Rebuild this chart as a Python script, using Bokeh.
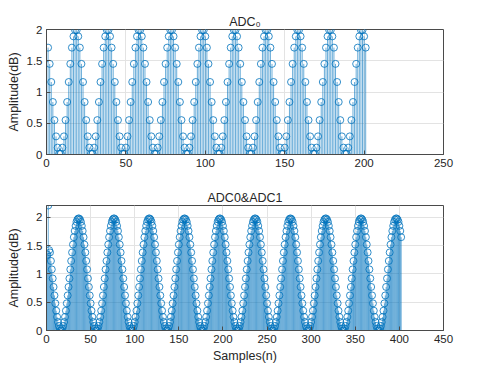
from bokeh.plotting import figure
from bokeh.layouts import column
from bokeh.models import ColumnDataSource, FixedTicker, NumeralTickFormatter, Range1d
from bokeh.embed import file_html
from bokeh.resources import INLINE

# ---------------- data ----------------
top_title = "ADC\u2080"
bottom_title = "ADC0&ADC1"
x_label = "Samples(n)"
y_label = "Amplitude(dB)"

top_x_ticks = [0, 50, 100, 150, 200, 250]
bottom_x_ticks = [0, 50, 100, 150, 200, 250, 300, 350, 400, 450]
y_ticks = [0, 0.5, 1, 1.5, 2]

top_amp = [
    1.71, 1.45, 1.16, 0.84, 0.55, 0.29, 0.11, 0.01, 0.01, 0.11, 0.29, 0.55, 0.84, 1.16, 1.45, 1.71, 1.89, 1.99, 1.99, 1.89,
    1.71, 1.45, 1.16, 0.84, 0.55, 0.29, 0.11, 0.01, 0.01, 0.11, 0.29, 0.55, 0.84, 1.16, 1.45, 1.71, 1.89, 1.99, 1.99, 1.89,
    1.71, 1.45, 1.16, 0.84, 0.55, 0.29, 0.11, 0.01, 0.01, 0.11, 0.29, 0.55, 0.84, 1.16, 1.45, 1.71, 1.89, 1.99, 1.99, 1.89,
    1.71, 1.45, 1.16, 0.84, 0.55, 0.29, 0.11, 0.01, 0.01, 0.11, 0.29, 0.55, 0.84, 1.16, 1.45, 1.71, 1.89, 1.99, 1.99, 1.89,
    1.71, 1.45, 1.16, 0.84, 0.55, 0.29, 0.11, 0.01, 0.01, 0.11, 0.29, 0.55, 0.84, 1.16, 1.45, 1.71, 1.89, 1.99, 1.99, 1.89,
    1.71, 1.45, 1.16, 0.84, 0.55, 0.29, 0.11, 0.01, 0.01, 0.11, 0.29, 0.55, 0.84, 1.16, 1.45, 1.71, 1.89, 1.99, 1.99, 1.89,
    1.71, 1.45, 1.16, 0.84, 0.55, 0.29, 0.11, 0.01, 0.01, 0.11, 0.29, 0.55, 0.84, 1.16, 1.45, 1.71, 1.89, 1.99, 1.99, 1.89,
    1.71, 1.45, 1.16, 0.84, 0.55, 0.29, 0.11, 0.01, 0.01, 0.11, 0.29, 0.55, 0.84, 1.16, 1.45, 1.71, 1.89, 1.99, 1.99, 1.89,
    1.71, 1.45, 1.16, 0.84, 0.55, 0.29, 0.11, 0.01, 0.01, 0.11, 0.29, 0.55, 0.84, 1.16, 1.45, 1.71, 1.89, 1.99, 1.99, 1.89,
    1.71, 1.45, 1.16, 0.84, 0.55, 0.29, 0.11, 0.01, 0.01, 0.11, 0.29, 0.55, 0.84, 1.16, 1.45, 1.71, 1.89, 1.99, 1.99, 1.89,
    1.71,
]

bottom_amp = [
    1.34, 2.21, 1.42, 1.38, 1.23, 1.08, 0.92, 0.77, 0.62, 0.48, 0.35, 0.24, 0.15, 0.08, 0.03, 0.00, 0.00, 0.03, 0.08, 0.15,
    0.24, 0.35, 0.48, 0.62, 0.77, 0.92, 1.08, 1.23, 1.38, 1.52, 1.65, 1.76, 1.85, 1.92, 1.96, 1.98, 1.98, 1.96, 1.92, 1.85,
    1.76, 1.65, 1.52, 1.38, 1.23, 1.08, 0.92, 0.77, 0.62, 0.48, 0.35, 0.24, 0.15, 0.08, 0.03, 0.00, 0.00, 0.03, 0.08, 0.15,
    0.24, 0.35, 0.48, 0.62, 0.77, 0.92, 1.08, 1.23, 1.38, 1.52, 1.65, 1.76, 1.85, 1.92, 1.96, 1.98, 1.98, 1.96, 1.92, 1.85,
    1.76, 1.65, 1.52, 1.38, 1.23, 1.08, 0.92, 0.77, 0.62, 0.48, 0.35, 0.24, 0.15, 0.08, 0.03, 0.00, 0.00, 0.03, 0.08, 0.15,
    0.24, 0.35, 0.48, 0.62, 0.77, 0.92, 1.08, 1.23, 1.38, 1.52, 1.65, 1.76, 1.85, 1.92, 1.96, 1.98, 1.98, 1.96, 1.92, 1.85,
    1.76, 1.65, 1.52, 1.38, 1.23, 1.08, 0.92, 0.77, 0.62, 0.48, 0.35, 0.24, 0.15, 0.08, 0.03, 0.00, 0.00, 0.03, 0.08, 0.15,
    0.24, 0.35, 0.48, 0.62, 0.77, 0.92, 1.08, 1.23, 1.38, 1.52, 1.65, 1.76, 1.85, 1.92, 1.96, 1.98, 1.98, 1.96, 1.92, 1.85,
    1.76, 1.65, 1.52, 1.38, 1.23, 1.08, 0.92, 0.77, 0.62, 0.48, 0.35, 0.24, 0.15, 0.08, 0.03, 0.00, 0.00, 0.03, 0.08, 0.15,
    0.24, 0.35, 0.48, 0.62, 0.77, 0.92, 1.08, 1.23, 1.38, 1.52, 1.65, 1.76, 1.85, 1.92, 1.96, 1.98, 1.98, 1.96, 1.92, 1.85,
    1.76, 1.65, 1.52, 1.38, 1.23, 1.08, 0.92, 0.77, 0.62, 0.48, 0.35, 0.24, 0.15, 0.08, 0.03, 0.00, 0.00, 0.03, 0.08, 0.15,
    0.24, 0.35, 0.48, 0.62, 0.77, 0.92, 1.08, 1.23, 1.38, 1.52, 1.65, 1.76, 1.85, 1.92, 1.96, 1.98, 1.98, 1.96, 1.92, 1.85,
    1.76, 1.65, 1.52, 1.38, 1.23, 1.08, 0.92, 0.77, 0.62, 0.48, 0.35, 0.24, 0.15, 0.08, 0.03, 0.00, 0.00, 0.03, 0.08, 0.15,
    0.24, 0.35, 0.48, 0.62, 0.77, 0.92, 1.08, 1.23, 1.38, 1.52, 1.65, 1.76, 1.85, 1.92, 1.96, 1.98, 1.98, 1.96, 1.92, 1.85,
    1.76, 1.65, 1.52, 1.38, 1.23, 1.08, 0.92, 0.77, 0.62, 0.48, 0.35, 0.24, 0.15, 0.08, 0.03, 0.00, 0.00, 0.03, 0.08, 0.15,
    0.24, 0.35, 0.48, 0.62, 0.77, 0.92, 1.08, 1.23, 1.38, 1.52, 1.65, 1.76, 1.85, 1.92, 1.96, 1.98, 1.98, 1.96, 1.92, 1.85,
    1.76, 1.65, 1.52, 1.38, 1.23, 1.08, 0.92, 0.77, 0.62, 0.48, 0.35, 0.24, 0.15, 0.08, 0.03, 0.00, 0.00, 0.03, 0.08, 0.15,
    0.24, 0.35, 0.48, 0.62, 0.77, 0.92, 1.08, 1.23, 1.38, 1.52, 1.65, 1.76, 1.85, 1.92, 1.96, 1.98, 1.98, 1.96, 1.92, 1.85,
    1.76, 1.65, 1.52, 1.38, 1.23, 1.08, 0.92, 0.77, 0.62, 0.48, 0.35, 0.24, 0.15, 0.08, 0.03, 0.00, 0.00, 0.03, 0.08, 0.15,
    0.24, 0.35, 0.48, 0.62, 0.77, 0.92, 1.08, 1.23, 1.38, 1.52, 1.65, 1.76, 1.85, 1.92, 1.96, 1.98, 1.98, 1.96, 1.92, 1.85,
    1.76, 1.65,
]

top_n = list(range(1, len(top_amp) + 1))
bottom_n = list(range(1, len(bottom_amp) + 1))

top_xmax = 250
bottom_xmax = 450
top_ymax = 2
bottom_ymax = 2.21

# ---------------- style ----------------
FONT = "Liberation Sans"
BLUE = "#0072BD"
TXT = "#262626"
AXC = "#4a4a4a"
GRID = "#e3e3e3"


def style_axis(ax, ticks):
    ax.ticker = FixedTicker(ticks=ticks)
    ax.axis_line_color = AXC
    ax.axis_line_width = 1
    ax.major_tick_line_color = AXC
    ax.major_tick_in = 4
    ax.major_tick_out = 0
    ax.minor_tick_line_color = None
    ax.major_label_text_font = FONT
    ax.major_label_text_color = TXT
    ax.major_label_text_font_size = "11.5px"
    ax.major_label_standoff = 4


def make_plot(xs, ys, xmax, ymax, xticks, title, xlabel, border_top, border_bottom):
    p = figure(
        frame_width=397, frame_height=125,
        min_border_left=46, min_border_right=20,
        min_border_top=border_top, min_border_bottom=border_bottom,
        x_range=Range1d(0, xmax), y_range=Range1d(0, ymax),
        output_backend="svg", toolbar_location=None, title=title,
    )
    p.title.align = "center"
    p.title.text_font = FONT
    p.title.text_font_size = "12.5px"
    p.title.text_font_style = "normal"
    p.title.text_color = TXT
    p.title.standoff = 2

    p.outline_line_color = AXC
    p.outline_line_width = 1
    p.background_fill_color = "white"
    p.border_fill_color = "white"

    style_axis(p.xaxis[0], xticks)
    style_axis(p.yaxis[0], y_ticks)
    p.yaxis[0].formatter = NumeralTickFormatter(format="0.[0]")
    p.yaxis[0].axis_label = y_label
    p.yaxis[0].axis_label_text_font = FONT
    p.yaxis[0].axis_label_text_font_size = "12.5px"
    p.yaxis[0].axis_label_text_font_style = "normal"
    p.yaxis[0].axis_label_text_color = TXT
    p.yaxis[0].axis_label_standoff = 3
    if xlabel:
        p.xaxis[0].axis_label = xlabel
        p.xaxis[0].axis_label_text_font = FONT
        p.xaxis[0].axis_label_text_font_size = "12.5px"
        p.xaxis[0].axis_label_text_font_style = "normal"
        p.xaxis[0].axis_label_text_color = TXT
        p.xaxis[0].axis_label_standoff = 3

    p.xgrid.ticker = FixedTicker(ticks=xticks)
    p.ygrid.ticker = FixedTicker(ticks=y_ticks)
    p.xgrid.grid_line_color = GRID
    p.ygrid.grid_line_color = GRID

    src = ColumnDataSource(dict(n=xs, a=ys, z=[0] * len(xs)))
    p.segment(x0="n", y0="z", x1="n", y1="a", source=src,
              line_color=BLUE, line_width=0.7, line_alpha=0.85)
    p.scatter(x="n", y="a", source=src, marker="circle", size=7,
              fill_color=None, line_color=BLUE, line_width=0.8)
    return p


p_top = make_plot(top_n, top_amp, top_xmax, top_ymax, top_x_ticks, top_title, None, 29, 26)
p_bot = make_plot(bottom_n, bottom_amp, bottom_xmax, bottom_ymax, bottom_x_ticks, bottom_title, x_label, 25, 38)

layout = column(p_top, p_bot, spacing=0)
open("out.html", "w").write(file_html(layout, INLINE))
